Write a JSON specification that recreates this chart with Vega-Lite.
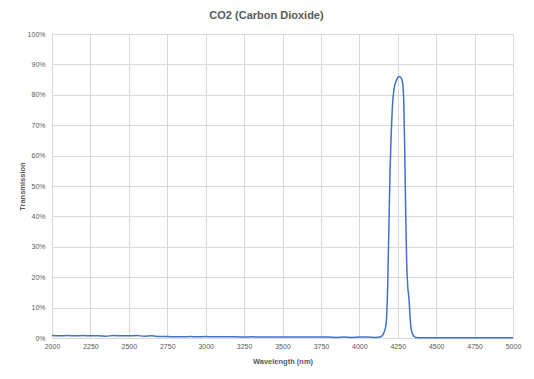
{
  "$schema": "https://vega.github.io/schema/vega-lite/v6.json",
  "width": 461,
  "height": 304,
  "autosize": "none",
  "padding": {"left": 52, "right": 21, "top": 34, "bottom": 41},
  "background": "white",
  "title": {"text": "CO2 (Carbon Dioxide)", "font": "Liberation Sans", "fontSize": 11, "fontWeight": "bold", "color": "#595959", "anchor": "middle", "dx": -16, "offset": 9},
  "config": {
    "view": {"stroke": null},
    "axis": {"labelFont": "Liberation Sans", "labelFontSize": 7, "labelColor": "#595959", "titleFont": "Liberation Sans", "titleFontSize": 7.5, "titleFontWeight": "bold", "titleColor": "#595959", "gridColor": "#d9d9d9", "gridWidth": 1, "domain": false, "ticks": false, "labelFlush": false, "labelOverlap": false, "labelBound": false}
  },
  "data": {"values": [
    {"wl": 2000, "t": 0.008}, {"wl": 2050, "t": 0.007}, {"wl": 2100, "t": 0.008}, {"wl": 2150, "t": 0.007},
    {"wl": 2200, "t": 0.008}, {"wl": 2250, "t": 0.007}, {"wl": 2300, "t": 0.007}, {"wl": 2350, "t": 0.006},
    {"wl": 2400, "t": 0.008}, {"wl": 2450, "t": 0.007}, {"wl": 2500, "t": 0.007}, {"wl": 2550, "t": 0.008},
    {"wl": 2600, "t": 0.006}, {"wl": 2650, "t": 0.007}, {"wl": 2700, "t": 0.005}, {"wl": 2750, "t": 0.005},
    {"wl": 2800, "t": 0.004}, {"wl": 2850, "t": 0.004}, {"wl": 2900, "t": 0.005}, {"wl": 2950, "t": 0.004},
    {"wl": 3000, "t": 0.005}, {"wl": 3050, "t": 0.004}, {"wl": 3100, "t": 0.004}, {"wl": 3150, "t": 0.004},
    {"wl": 3200, "t": 0.004}, {"wl": 3250, "t": 0.003}, {"wl": 3300, "t": 0.004}, {"wl": 3350, "t": 0.003},
    {"wl": 3400, "t": 0.003}, {"wl": 3450, "t": 0.003}, {"wl": 3500, "t": 0.003}, {"wl": 3550, "t": 0.003},
    {"wl": 3600, "t": 0.003}, {"wl": 3650, "t": 0.003}, {"wl": 3700, "t": 0.003}, {"wl": 3750, "t": 0.003},
    {"wl": 3800, "t": 0.003}, {"wl": 3850, "t": 0.002}, {"wl": 3900, "t": 0.003}, {"wl": 3950, "t": 0.002},
    {"wl": 4000, "t": 0.003}, {"wl": 4050, "t": 0.003}, {"wl": 4100, "t": 0.002}, {"wl": 4134, "t": 0.003},
    {"wl": 4150, "t": 0.008}, {"wl": 4165, "t": 0.025}, {"wl": 4175, "t": 0.05}, {"wl": 4185, "t": 0.18},
    {"wl": 4192, "t": 0.36}, {"wl": 4200, "t": 0.55}, {"wl": 4208, "t": 0.68}, {"wl": 4215, "t": 0.76},
    {"wl": 4226, "t": 0.82}, {"wl": 4243, "t": 0.85}, {"wl": 4258, "t": 0.86}, {"wl": 4273, "t": 0.855},
    {"wl": 4283, "t": 0.835}, {"wl": 4290, "t": 0.76}, {"wl": 4296, "t": 0.6}, {"wl": 4302, "t": 0.4},
    {"wl": 4308, "t": 0.25}, {"wl": 4315, "t": 0.17}, {"wl": 4323, "t": 0.13}, {"wl": 4330, "t": 0.07},
    {"wl": 4336, "t": 0.035}, {"wl": 4345, "t": 0.015}, {"wl": 4355, "t": 0.006}, {"wl": 4370, "t": 0.002},
    {"wl": 4400, "t": 0.001}, {"wl": 4450, "t": 0.001}, {"wl": 4500, "t": 0.001}, {"wl": 4550, "t": 0.001},
    {"wl": 4600, "t": 0.001}, {"wl": 4650, "t": 0.001}, {"wl": 4700, "t": 0.001}, {"wl": 4750, "t": 0.001},
    {"wl": 4800, "t": 0.001}, {"wl": 4850, "t": 0.001}, {"wl": 4900, "t": 0.001}, {"wl": 4950, "t": 0.001},
    {"wl": 5000, "t": 0.001}
  ]},
  "mark": {"type": "line", "color": "#4472C4", "strokeWidth": 1.5, "interpolate": "monotone"},
  "encoding": {
    "x": {"field": "wl", "type": "quantitative", "title": "Wavelength (nm)", "scale": {"domain": [2000, 5000], "nice": false},
      "axis": {"values": [2000, 2250, 2500, 2750, 3000, 3250, 3500, 3750, 4000, 4250, 4500, 4750, 5000], "format": "d", "labelPadding": 4, "titlePadding": 8}},
    "y": {"field": "t", "type": "quantitative", "title": "Transmission", "scale": {"domain": [0, 1], "nice": false},
      "axis": {"values": [0, 0.1, 0.2, 0.3, 0.4, 0.5, 0.6, 0.7, 0.8, 0.9, 1], "format": ".0%", "labelPadding": 7, "titlePadding": 1}}
  }
}
